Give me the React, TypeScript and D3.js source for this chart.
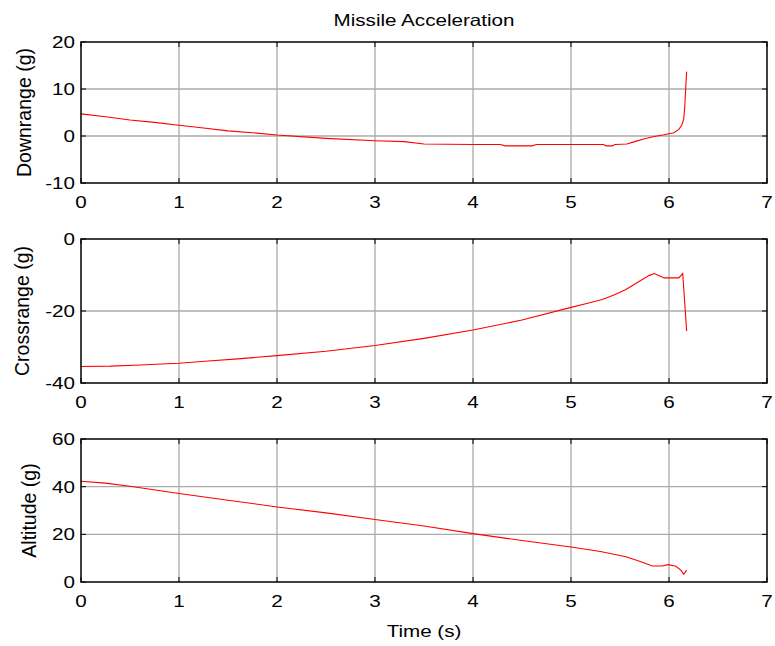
import React from "react";
import * as d3 from "d3";

const title = "Missile Acceleration";
const xLabel = "Time (s)";
const xTicks = [0, 1, 2, 3, 4, 5, 6, 7];

const downT = [0, 0.25, 0.5, 0.75, 1.0, 1.25, 1.5, 1.75, 2.0, 2.5, 3.0, 3.3, 3.5, 4.0, 4.28, 4.33, 4.6, 4.65, 5.33, 5.36, 5.42, 5.45, 5.57, 5.65, 5.75, 5.85, 5.95, 6.05, 6.1, 6.13, 6.15, 6.16, 6.17, 6.18];
const downV = [4.7, 4.1, 3.4, 2.9, 2.3, 1.7, 1.1, 0.7, 0.2, -0.5, -1.0, -1.2, -1.7, -1.8, -1.8, -2.1, -2.1, -1.8, -1.8, -2.1, -2.1, -1.8, -1.7, -1.2, -0.6, -0.1, 0.25, 0.7, 1.4, 2.3, 3.6, 6.0, 10.0, 13.7];

const crossT = [0, 0.3, 0.6, 1.0, 1.3, 1.6, 2.0, 2.5, 3.0, 3.5, 4.0, 4.5, 5.0, 5.15, 5.32, 5.45, 5.56, 5.69, 5.8, 5.85, 5.9, 5.95, 6.1, 6.14, 6.18];
const crossV = [-35.4, -35.3, -35.0, -34.5, -33.9, -33.3, -32.4, -31.2, -29.6, -27.6, -25.3, -22.5, -19.0, -18.0, -16.8, -15.4, -14.0, -11.9, -10.1, -9.6, -10.2, -10.8, -10.8, -9.6, -25.6];

const altT = [0, 0.25, 0.5, 1.0, 1.5, 2.0, 2.5, 3.0, 3.5, 4.0, 4.5, 5.0, 5.3, 5.56, 5.7, 5.83, 5.93, 5.99, 6.07, 6.12, 6.15, 6.18];
const altV = [42.3, 41.5, 40.2, 37.1, 34.3, 31.5, 29.0, 26.2, 23.5, 20.3, 17.4, 14.7, 12.8, 10.6, 8.7, 6.7, 6.7, 7.3, 6.6, 5.0, 3.2, 5.0];

const panels = [
  { label: "Downrange (g)", t: downT, v: downV, yDomain: [-10, 20], yTicks: [-10, 0, 10, 20], top: 42, bottom: 183, labelX: 30.5 },
  { label: "Crossrange (g)", t: crossT, v: crossV, yDomain: [-40, 0], yTicks: [-40, -20, 0], top: 239, bottom: 383, labelX: 29 },
  { label: "Altitude (g)", t: altT, v: altV, yDomain: [0, 60], yTicks: [0, 20, 40, 60], top: 439, bottom: 582, labelX: 36 },
];

const LEFT = 81;
const RIGHT = 767;
const FONT = "'Liberation Sans', Arial, Helvetica, sans-serif";
const TICK = 5;
const FS = 16.5;
const SX = 1.25;

function HText({ x, y, anchor, dy, children }: { x: number; y: number; anchor: string; dy?: string; children: any }) {
  return (
    <text transform={`translate(${x},${y}) scale(${SX},1)`} textAnchor={anchor} dy={dy} fontSize={FS} fontFamily={FONT} fill="#000">
      {children}
    </text>
  );
}

function Panel({ p }: { p: any }) {
  const x = d3.scaleLinear().domain([0, 7]).range([LEFT, RIGHT]);
  const y = d3.scaleLinear().domain(p.yDomain).range([p.bottom, p.top]);
  const pts: [number, number][] = p.t.map((t: number, i: number) => [t, p.v[i]]);
  const line = d3.line<[number, number]>().x((d) => x(d[0])).y((d) => y(d[1]));
  const [y0, y1] = p.yDomain;
  return (
    <g>
      {xTicks.filter((t) => t > 0 && t < 7).map((t) => (
        <line key={"gx" + t} x1={x(t)} x2={x(t)} y1={p.top} y2={p.bottom} stroke="#ababab" strokeWidth={1.3} />
      ))}
      {p.yTicks.filter((v: number) => v > y0 && v < y1).map((v: number) => (
        <line key={"gy" + v} x1={LEFT} x2={RIGHT} y1={y(v)} y2={y(v)} stroke="#ababab" strokeWidth={1.3} />
      ))}
      <path d={line(pts) || ""} fill="none" stroke="#ff0000" strokeWidth={1.1} />
      {xTicks.map((t) => (
        <g key={"tx" + t}>
          <line x1={x(t)} x2={x(t)} y1={p.bottom} y2={p.bottom - TICK} stroke="#000" strokeWidth={1} />
          <line x1={x(t)} x2={x(t)} y1={p.top} y2={p.top + TICK} stroke="#000" strokeWidth={1} />
          <HText x={x(t)} y={p.bottom + 25} anchor="middle">{t}</HText>
        </g>
      ))}
      {p.yTicks.map((v: number) => (
        <g key={"ty" + v}>
          <line x1={LEFT} x2={LEFT + TICK} y1={y(v)} y2={y(v)} stroke="#000" strokeWidth={1} />
          <line x1={RIGHT} x2={RIGHT - TICK} y1={y(v)} y2={y(v)} stroke="#000" strokeWidth={1} />
          <HText x={LEFT - 6} y={y(v)} anchor="end" dy="0.36em">{v}</HText>
        </g>
      ))}
      <rect x={LEFT} y={p.top} width={RIGHT - LEFT} height={p.bottom - p.top} fill="none" stroke="#000" strokeWidth={1.5} />
      <text transform={`translate(${p.labelX},${(p.top + p.bottom) / 2}) rotate(-90)`} textAnchor="middle" fontSize={19.5} fontFamily={FONT} fill="#000">{p.label}</text>
    </g>
  );
}

export default function App() {
  return (
    <svg width={775} height={646} style={{ position: "absolute", left: 0, top: 0, background: "#fff" }}>
      <rect x={0} y={0} width={775} height={646} fill="#fff" />
      <HText x={(LEFT + RIGHT) / 2} y={26} anchor="middle">{title}</HText>
      {panels.map((p) => <Panel key={p.label} p={p} />)}
      <HText x={(LEFT + RIGHT) / 2} y={637} anchor="middle">{xLabel}</HText>
    </svg>
  );
}
